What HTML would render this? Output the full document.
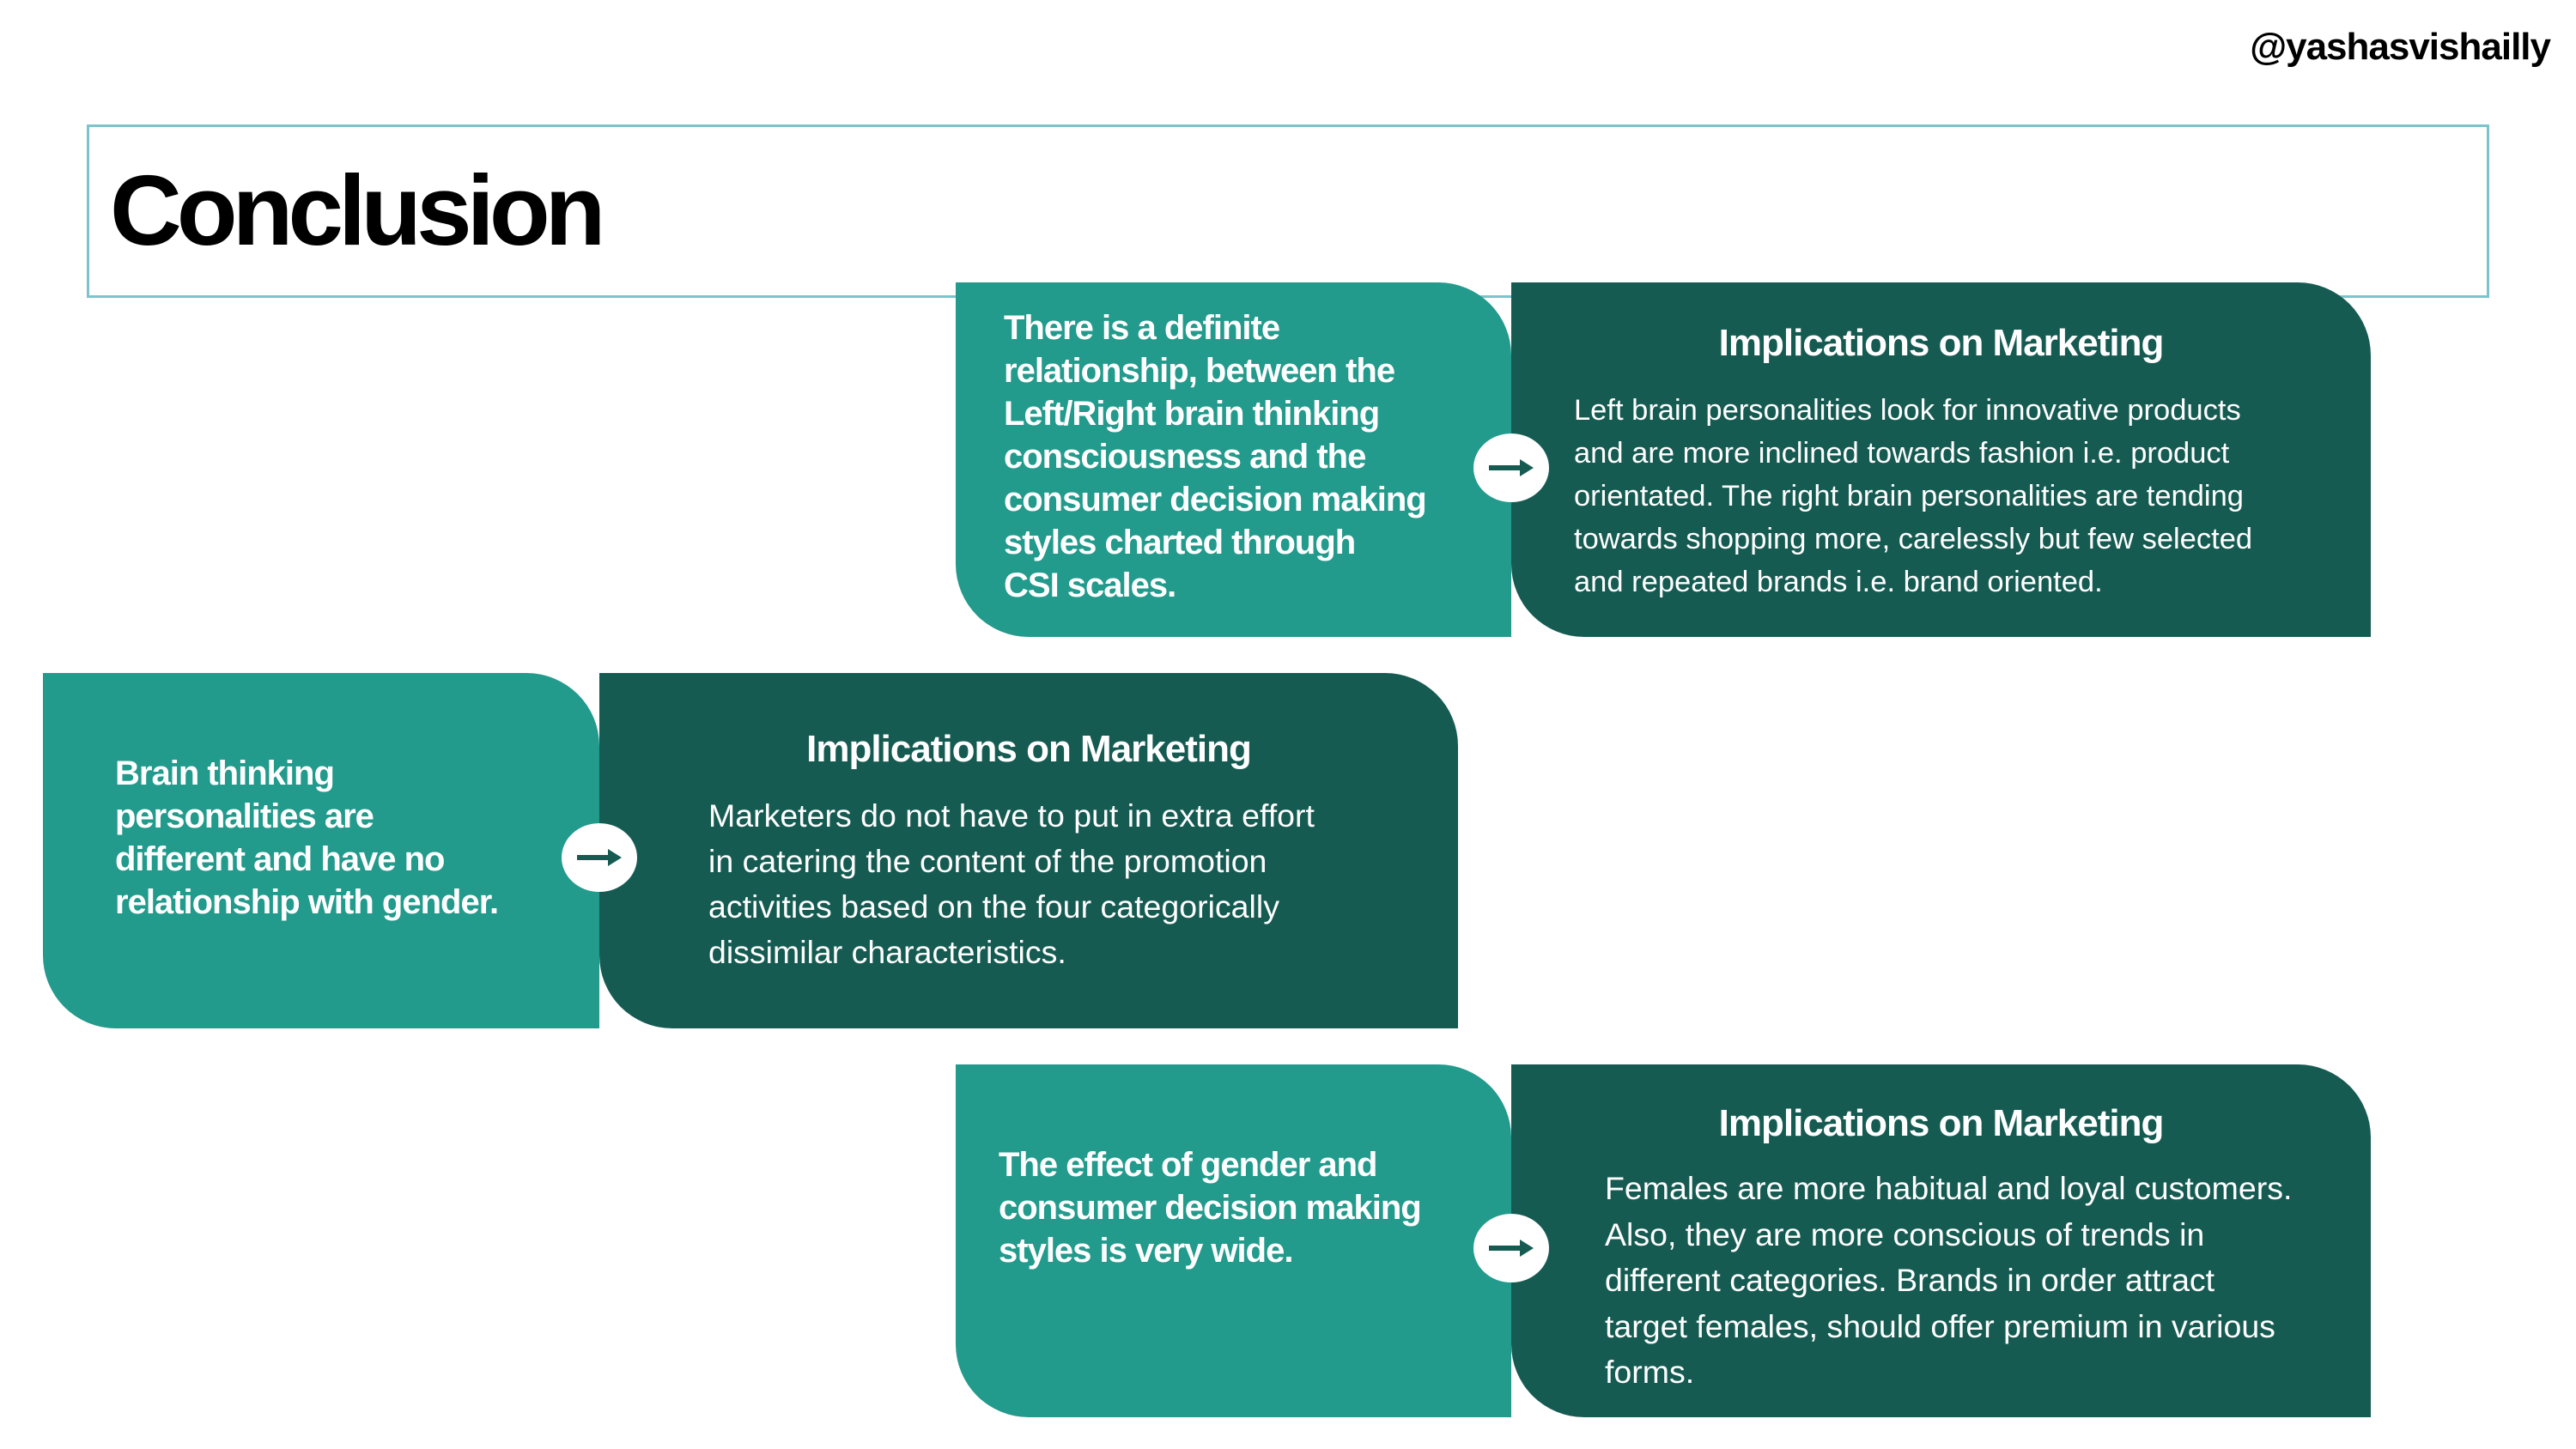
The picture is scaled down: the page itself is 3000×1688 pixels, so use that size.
<!DOCTYPE html>
<html><head><meta charset="utf-8"><style>
*{margin:0;padding:0;box-sizing:border-box}
body{width:3000px;height:1688px;background:#fff;position:relative;overflow:hidden;font-family:"Liberation Sans",sans-serif}
.abs{position:absolute}
.wm{right:30px;top:30px;font-size:44px;font-weight:bold;color:#000;letter-spacing:-1px}
.tbox{left:101px;top:145px;width:2798px;height:202px;border:3px solid #7cc3cb}
.title{left:128px;top:178px;font-size:116px;font-weight:bold;color:#000;letter-spacing:-6px}
.lt,.dk{position:absolute;border-radius:0 85px 0 85px}
.lt{background:#229a8c}
.dk{background:#165b52}
.lt p{position:absolute;color:#fff;font-weight:bold;font-size:40px;line-height:50px;white-space:nowrap;letter-spacing:-1px}
.dk h2{position:absolute;left:0;right:0;text-align:center;color:#fff;font-weight:bold;font-size:44px;letter-spacing:-1px}
.dk p{position:absolute;color:#fff;white-space:nowrap;font-size:34.5px;line-height:50px}
.c{position:absolute;width:88px;height:80px;border-radius:50%;background:#fff}
.c svg{position:absolute;left:14px;top:20px}
</style></head><body>
<div class="abs wm">@yashasvishailly</div>
<div class="abs tbox"></div>
<div class="abs title">Conclusion</div>

<div class="lt" style="left:1113px;top:329px;width:647px;height:413px">
<p style="left:56px;top:28px">There is a definite<br>relationship, between the<br>Left/Right brain thinking<br>consciousness and the<br>consumer decision making<br>styles charted through<br>CSI scales.</p></div>
<div class="dk" style="left:1760px;top:329px;width:1001px;height:413px">
<h2 style="top:46px">Implications on Marketing</h2>
<p style="left:73px;top:124px">Left brain personalities look for innovative products<br>and are more inclined towards fashion i.e. product<br>orientated. The right brain personalities are tending<br>towards shopping more, carelessly but few selected<br>and repeated brands i.e. brand oriented.</p></div>

<div class="lt" style="left:50px;top:784px;width:648px;height:414px">
<p style="left:84px;top:92px">Brain thinking<br>personalities are<br>different and have no<br>relationship with gender.</p></div>
<div class="dk" style="left:698px;top:784px;width:1000px;height:414px">
<h2 style="top:64px">Implications on Marketing</h2>
<p style="left:127px;top:140px;font-size:37.5px;line-height:53px">Marketers do not have to put in extra effort<br>in catering the content of the promotion<br>activities based on the four categorically<br>dissimilar characteristics.</p></div>

<div class="lt" style="left:1113px;top:1240px;width:647px;height:411px">
<p style="left:50px;top:92px">The effect of gender and<br>consumer decision making<br>styles is very wide.</p></div>
<div class="dk" style="left:1760px;top:1240px;width:1001px;height:411px">
<h2 style="top:44px">Implications on Marketing</h2>
<p style="left:109px;top:118px;font-size:37.5px;line-height:53.5px">Females are more habitual and loyal customers.<br>Also, they are more conscious of trends in<br>different categories. Brands in order attract<br>target females, should offer premium in various<br>forms.</p></div>

<div class="c" style="left:1716px;top:505px"><svg width="60" height="40" viewBox="0 0 60 40"><line x1="4" y1="20" x2="46" y2="20" stroke="#165b52" stroke-width="6"/><polygon points="40,10 56,20 40,30" fill="#165b52"/></svg></div>
<div class="c" style="left:654px;top:959px"><svg width="60" height="40" viewBox="0 0 60 40"><line x1="4" y1="20" x2="46" y2="20" stroke="#165b52" stroke-width="6"/><polygon points="40,10 56,20 40,30" fill="#165b52"/></svg></div>
<div class="c" style="left:1716px;top:1414px"><svg width="60" height="40" viewBox="0 0 60 40"><line x1="4" y1="20" x2="46" y2="20" stroke="#165b52" stroke-width="6"/><polygon points="40,10 56,20 40,30" fill="#165b52"/></svg></div>
</body></html>
